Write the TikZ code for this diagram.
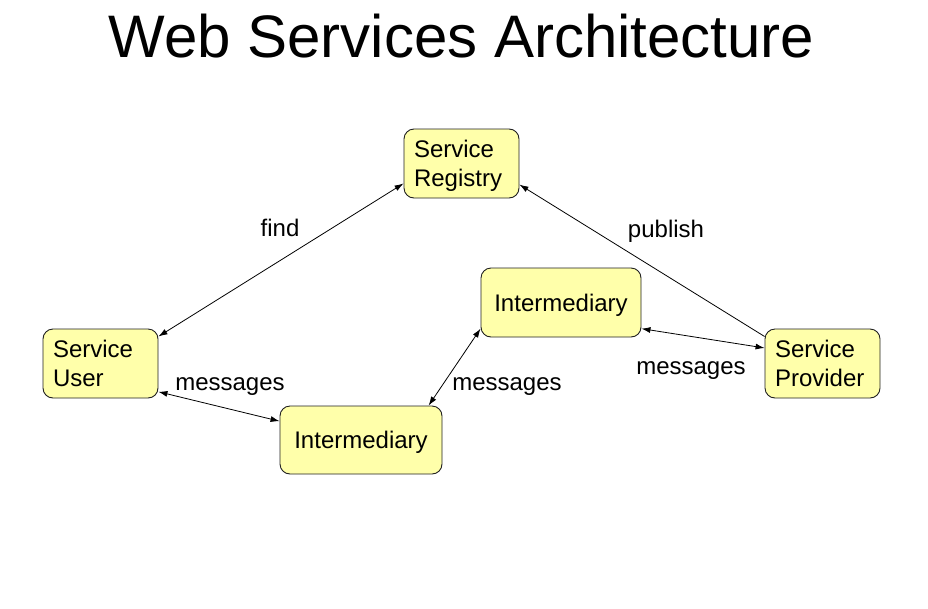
\documentclass[tikz,border=0pt]{standalone}
\usepackage{fontspec}
\setmainfont{Liberation Sans}
\usetikzlibrary{arrows.meta}
\definecolor{ink}{HTML}{000000}
\definecolor{boxfill}{HTML}{FFFFAA}
\definecolor{boxline}{HTML}{202020}
\tikzset{
  basebox/.style={draw=boxline,fill=boxfill,rounded corners=10pt,line width=0.9pt,text=ink,
    font=\fontsize{24}{29}\selectfont,minimum height=69pt,inner sep=0pt},
  rolebox/.style={basebox,text width=95pt,minimum width=115pt,align=left,text height=17pt,text depth=29.6pt},
  midbox/.style={basebox,minimum width=160pt,align=center,text height=17.5pt,text depth=-3pt},
  link/.style={{Latex[length=9pt,width=6pt]}-{Latex[length=9pt,width=6pt]},line width=0.8pt,draw=ink},
  onelink/.style={-{Latex[length=9pt,width=6pt]},line width=0.8pt,draw=ink},
  lbl/.style={font=\fontsize{24}{28}\selectfont,text=ink,inner sep=0pt}
}
\begin{document}
\begin{tikzpicture}[x=1pt,y=-1pt]
    \useasboundingbox (0,0) rectangle (928,608);
    \node[font=\fontsize{60}{66}\selectfont,anchor=base] (title) at (461.5,57) {Web Services Architecture};

    % boxes
    \node[rolebox] (registry) at (461.5,163.5) {Service\\Registry};
    \node[rolebox] (user) at (100.5,363.5) {Service\\User};
    \node[rolebox] (provider) at (822.5,363.5) {Service\\Provider};
    \node[midbox] (imtop) at (561,302.5) {Intermediary};
    \node[midbox,minimum width=162pt,minimum height=68pt] (imbot) at (361,440) {Intermediary};

    % connectors
    \draw[link] (user.25) -- (registry.199);
    \draw[onelink] (provider.155) -- (registry.-20);
    \draw[link] (user.-26) -- (imbot.167);
    \draw[link] (imbot.27) -- (imtop.198);
    \draw[link] (imtop.-18) -- (provider.165);

    % labels
    \node[lbl,anchor=base] (findlbl) at (280,236) {find};
    \node[lbl,anchor=base] (publbl) at (666,237) {publish};
    \node[lbl,anchor=base] (msgone) at (230,390) {messages};
    \node[lbl,anchor=base] (msgtwo) at (507,390) {messages};
    \node[lbl,anchor=base] (msgthree) at (691,374) {messages};
\end{tikzpicture}
\end{document}
